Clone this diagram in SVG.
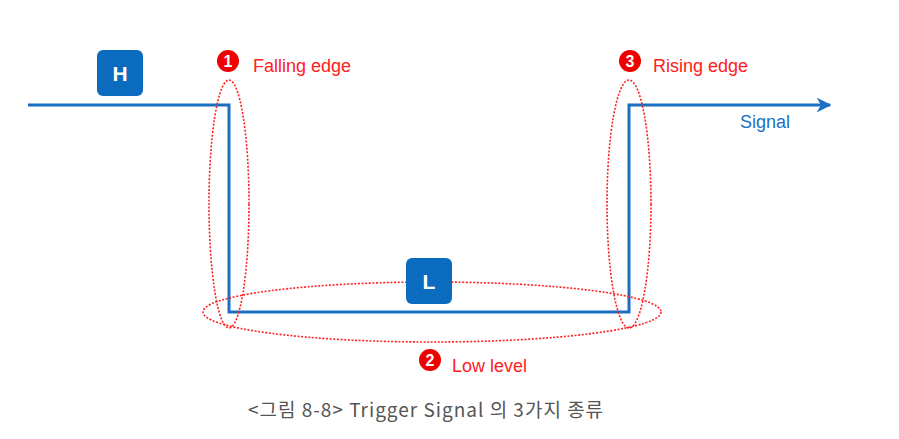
<svg xmlns="http://www.w3.org/2000/svg" width="899" height="439" viewBox="0 0 899 439">
<defs>
<style>
.sig{fill:none;stroke:#1b6fc2;stroke-width:3}
.box{fill:#0b6cbf}
.boxt{font-family:"Liberation Sans",Arial,sans-serif;font-weight:bold;font-size:21px;fill:#fff;text-anchor:middle}
.ell{fill:none;stroke:#ff2020;stroke-width:1.6;stroke-dasharray:2 1.6}
.num{fill:#ee0000}
.numt{font-family:"Liberation Sans",Arial,sans-serif;font-weight:bold;font-size:16px;fill:#fff;text-anchor:middle}
.lbl{font-family:"Liberation Sans",Arial,sans-serif;font-size:18px;fill:#ff2020}
</style>
<marker id="arr" viewBox="0 0 10 10" refX="9" refY="5" markerWidth="5" markerHeight="5" orient="auto" markerUnits="strokeWidth">
<path d="M0,0 L10,5 L0,10 L3,5 Z" fill="#1b6fc2"/>
</marker>
</defs>
<rect width="899" height="439" fill="#fff"/>
<g id="connectors">
<path class="sig" d="M28,105 H229 V312 H629 V105 H830" marker-end="url(#arr)"/>
</g>
<g id="ellipse-falling"><ellipse class="ell" cx="229" cy="204" rx="20" ry="124"/></g>
<g id="ellipse-rising"><ellipse class="ell" cx="629" cy="204" rx="22" ry="124"/></g>
<g id="ellipse-low"><ellipse class="ell" cx="432" cy="312" rx="229" ry="30"/></g>
<g id="node-H">
<rect class="box" x="97" y="50" width="46" height="46" rx="6"/>
<text class="boxt" x="120" y="81">H</text>
</g>
<g id="node-L">
<rect class="box" x="406" y="258" width="46" height="46" rx="6"/>
<text class="boxt" x="429" y="289">L</text>
</g>
<g id="label-falling">
<circle class="num" cx="228" cy="61" r="11"/>
<text class="numt" x="228" y="67">1</text>
<text class="lbl" x="253" y="72">Falling edge</text>
</g>
<g id="label-rising">
<circle class="num" cx="630" cy="61" r="11"/>
<text class="numt" x="630" y="67">3</text>
<text class="lbl" x="653" y="72">Rising edge</text>
</g>
<g id="label-low">
<circle class="num" cx="430" cy="360" r="11"/>
<text class="numt" x="430" y="366">2</text>
<text class="lbl" x="452" y="372">Low level</text>
</g>
<g id="label-signal">
<text x="740" y="128" font-family="Liberation Sans,Arial,sans-serif" font-size="18" fill="#1b6fc2">Signal</text>
</g>
<g id="caption">
<text x="426" y="417" text-anchor="middle" font-family="'Noto Sans CJK KR','Noto Sans',sans-serif" font-size="19" letter-spacing="1" fill="#555">&lt;그림 8-8&gt; Trigger Signal 의 3가지 종류</text>
</g>
</svg>
